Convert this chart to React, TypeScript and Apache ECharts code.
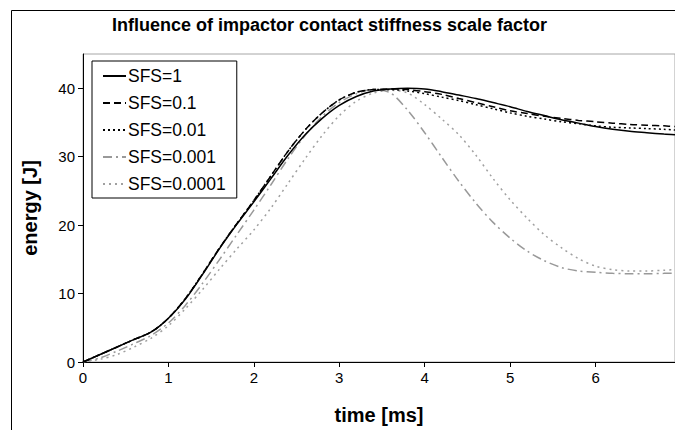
import React, { useEffect, useRef } from "react";
import * as echarts from "echarts";

const timeMs = [0, 0.2, 0.4, 0.6, 0.8, 1.0, 1.2, 1.4, 1.6, 1.8, 2.0, 2.2, 2.4, 2.6, 2.8, 3.0, 3.2, 3.4, 3.6, 3.8, 4.0, 4.2, 4.4, 4.6, 4.8, 5.0, 5.2, 5.4, 5.6, 5.8, 6.0, 6.2, 6.4, 6.6, 6.8, 6.93];

const sfs1 = [0, 1.1, 2.2, 3.3, 4.4, 6.4, 9.2, 12.8, 16.6, 20.1, 23.4, 26.8, 30.2, 33.2, 35.6, 37.5, 38.8, 39.6, 39.9, 40.0, 39.9, 39.5, 39.0, 38.5, 37.9, 37.3, 36.6, 36.0, 35.4, 34.9, 34.4, 34.0, 33.7, 33.5, 33.3, 33.2];
const sfs01 = [0, 1.1, 2.2, 3.3, 4.4, 6.4, 9.3, 12.9, 16.7, 20.2, 23.6, 27.2, 30.8, 33.9, 36.4, 38.3, 39.4, 39.8, 39.9, 39.8, 39.5, 39.1, 38.5, 37.9, 37.3, 36.7, 36.3, 35.9, 35.6, 35.3, 35.1, 34.9, 34.7, 34.6, 34.5, 34.4];
const sfs001 = [0, 1.1, 2.2, 3.3, 4.4, 6.4, 9.3, 12.9, 16.7, 20.2, 23.6, 27.2, 30.8, 33.9, 36.4, 38.3, 39.4, 39.8, 39.8, 39.6, 39.2, 38.7, 38.2, 37.6, 37.0, 36.4, 35.9, 35.5, 35.1, 34.8, 34.5, 34.3, 34.2, 34.1, 34.0, 33.9];
const sfs0001 = [0, 0.6, 1.6, 2.7, 3.9, 5.7, 8.3, 11.5, 15.0, 18.6, 22.2, 25.9, 29.7, 33.1, 35.9, 37.9, 39.2, 39.8, 39.3, 36.8, 33.5, 29.9, 26.4, 23.2, 20.4, 18.1, 16.2, 14.8, 13.8, 13.3, 13.1, 12.95, 12.9, 12.9, 12.95, 13.0];
const sfs00001 = [0, 0.4, 1.1, 2.2, 3.5, 5.3, 7.8, 10.6, 13.6, 16.5, 19.3, 22.5, 26.1, 29.7, 33.1, 36.0, 38.1, 39.3, 39.7, 39.3, 37.6, 35.5, 33.2, 30.2, 26.8, 23.7, 21.0, 18.6, 16.7, 15.1, 14.0, 13.5, 13.3, 13.3, 13.4, 13.5];

const seriesNames = ["SFS=1", "SFS=0.1", "SFS=0.01", "SFS=0.001", "SFS=0.0001"];
const xTicks = [0, 1, 2, 3, 4, 5, 6];
const yTicks = [0, 10, 20, 30, 40];

const FONT = "'Liberation Sans', Arial, sans-serif";

export default function App() {
  const ref = useRef<HTMLDivElement>(null);
  useEffect(() => {
    if (!ref.current) return;
    const chart = echarts.init(ref.current, null, { renderer: "svg" });
    const allData = [sfs1, sfs01, sfs001, sfs0001, sfs00001];
    const styles = [
      { color: "#000000", type: "solid" as any, width: 1.5 },
      { color: "#000000", type: [7, 4] as any, width: 1.5 },
      { color: "#000000", type: [2, 3] as any, width: 1.5 },
      { color: "#999999", type: [9, 4, 2, 4] as any, width: 1.5 },
      { color: "#a0a0a0", type: [2, 4] as any, width: 1.5 },
    ];
    chart.setOption({
      animation: false,
      title: {
        text: "Influence of impactor contact stiffness scale factor",
        left: 112,
        top: 16,
        textStyle: { fontFamily: FONT, fontSize: 18, fontWeight: "bold", color: "#000" },
        padding: 0,
      },
      legend: {
        orient: "vertical",
        left: 92,
        top: 61,
        backgroundColor: "#fff",
        borderColor: "#000",
        borderWidth: 1,
        borderRadius: 0,
        padding: [6, 11, 5, 10],
        itemWidth: 23,
        itemHeight: 16,
        itemGap: 9,
        itemStyle: { opacity: 0 },
        textStyle: { fontFamily: FONT, fontSize: 17.5, color: "#000", lineHeight: 16, padding: [0, 0, 0, -3] },
        data: seriesNames.map((n) => ({ name: n })),
      },
      grid: {
        left: 83,
        top: 54,
        right: -1,
        bottom: 430 - 369,
        show: true,
        borderColor: "#a6a6a6",
        borderWidth: 1,
        backgroundColor: "transparent",
      },
      graphic: [
        {
          type: "rect",
          shape: { x: 11.5, y: 10.5, width: 900, height: 900 },
          style: { fill: "none", stroke: "#000", lineWidth: 1 },
          z: -1,
          silent: true,
        },
      ],
      xAxis: {
        type: "value",
        min: 0,
        max: 6.93,
        interval: 1,
        name: "time [ms]",
        nameLocation: "middle",
        nameGap: 43,
        nameTextStyle: { fontFamily: FONT, fontSize: 20, fontWeight: "bold", color: "#000" },
        axisLine: { lineStyle: { color: "#000", width: 1 } },
        axisTick: { show: true, inside: false, length: 5, lineStyle: { color: "#000" }, customValues: xTicks },
        axisLabel: { fontFamily: FONT, fontSize: 15, color: "#000", margin: 8, customValues: xTicks },
        splitLine: { show: false },
      },
      yAxis: {
        type: "value",
        min: 0,
        max: 45,
        interval: 10,
        name: "energy [J]",
        nameLocation: "middle",
        nameGap: 43,
        nameTextStyle: { fontFamily: FONT, fontSize: 20, fontWeight: "bold", color: "#000" },
        axisLine: { show: true, lineStyle: { color: "#000", width: 1 } },
        axisTick: { show: true, inside: false, length: 5, lineStyle: { color: "#000" }, customValues: yTicks },
        axisLabel: { fontFamily: FONT, fontSize: 15, color: "#000", margin: 8, customValues: yTicks },
        splitLine: { show: false },
      },
      series: seriesNames.map((name, i) => ({
        name,
        type: "line",
        showSymbol: false,
        symbol: "none",
        smooth: 0.3,
        data: timeMs.map((t, j) => [t, allData[i][j]]),
        lineStyle: styles[i],
        itemStyle: { color: styles[i].color },
        z: 10 - i,
      })),
    });
    return () => chart.dispose();
  }, []);
  return (
    <div
      ref={ref}
      style={{ position: "fixed", left: 0, top: 0, width: 675, height: 430, background: "#fff" }}
    />
  );
}
